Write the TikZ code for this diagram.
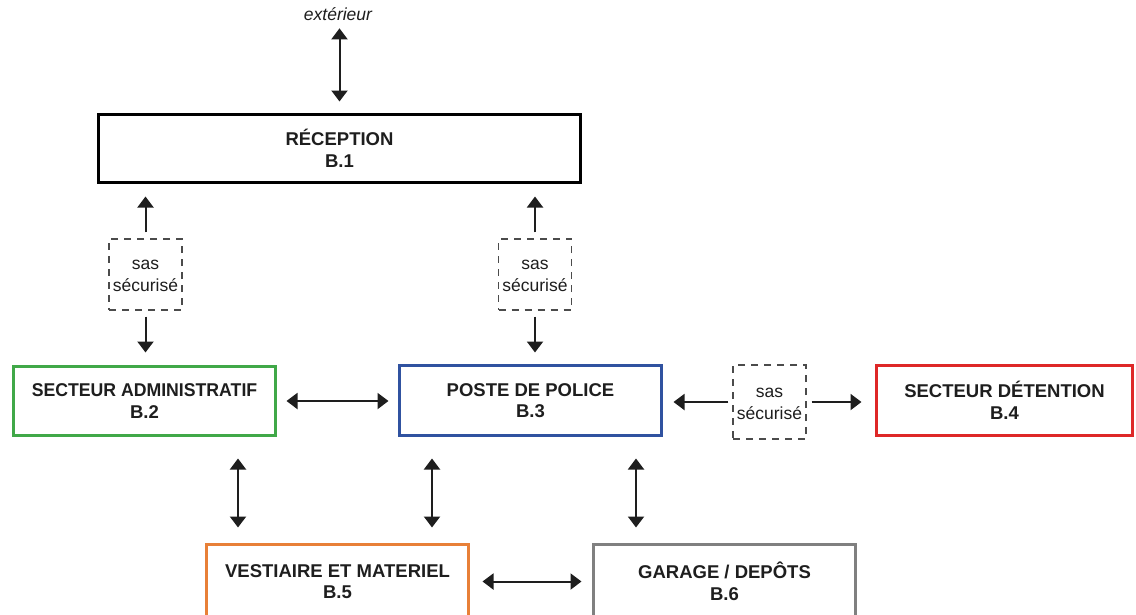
\documentclass[tikz,border=0pt]{standalone}
\usepackage{fontspec}
\setmainfont{Liberation Sans}
\usetikzlibrary{arrows.meta,calc}
\definecolor{cgreen}{RGB}{64,168,72}
\definecolor{cblue}{RGB}{48,82,160}
\definecolor{cred}{RGB}{222,40,40}
\definecolor{corange}{RGB}{232,128,56}
\definecolor{cgray}{RGB}{128,128,128}
\definecolor{ink}{RGB}{30,30,30}
\begin{document}
\begin{tikzpicture}[x=1pt,y=-1pt,
  box/.style={draw, line width=3pt, rectangle, inner sep=0pt, align=center,
    font=\fontsize{18.5}{21.5}\selectfont\bfseries, text=ink},
  sas/.style={draw=ink!80, dash pattern=on 7pt off 6pt, line width=1.3pt, inner sep=0pt,
    align=center, minimum width=73pt, font=\fontsize{17.5}{22}\selectfont, text=ink},
  arr/.style={line width=2pt, draw=ink, -{Triangle[width=16pt,length=11pt]}},
  dbl/.style={line width=2pt, draw=ink, {Triangle[width=16pt,length=11pt]}-{Triangle[width=16pt,length=11pt]}}]
\useasboundingbox (0,0) rectangle (1136,614);
\clip (0,0) rectangle (1136,614);
\fill[white] (0,0) rectangle (1136,614);

\node[font=\fontsize{17.5}{20}\selectfont\itshape, text=ink, inner sep=0pt, anchor=base] (ext) at (338,20) {extérieur};
\node[box, minimum width=482pt, minimum height=68pt] (rec) at (339.5,148.5) {RÉCEPTION\\B.1};
\node[box, draw=cgreen, minimum width=262pt, minimum height=69pt] (adm) at (144.5,401) {\scalebox{0.955}[1]{SECTEUR ADMINISTRATIF}\\B.2};
\node[box, draw=cblue, minimum width=262pt, minimum height=70pt] (pol) at (530.5,400.5) {POSTE DE POLICE\\B.3};
\node[box, draw=cred, minimum width=256pt, minimum height=70pt] (det) at (1004.5,400.5) {SECTEUR DÉTENTION\\B.4};
\node[box, draw=corange, minimum width=262pt, minimum height=74pt] (ves) at (337.5,581.5) {VESTIAIRE ET MATERIEL\\B.5};
\node[box, draw=cgray, minimum width=262pt, minimum height=74pt] (gar) at (724.5,581.5) {GARAGE / DEPÔTS\\B.6};

\node[sas, minimum height=71pt] (sasL) at (145.5,274.5) {\rule{0pt}{13pt}sas\\sécurisé};
\node[sas, minimum height=71pt] (sasR) at (535,274.5) {\rule{0pt}{13pt}sas\\sécurisé};
\node[sas, minimum height=74pt] (sasM) at (769.5,402) {\rule{0pt}{13pt}sas\\sécurisé};

\coordinate (v1) at (238,0);
\coordinate (v2) at (432,0);
\coordinate (v3) at (636,0);

\draw[dbl, shorten <=8pt, shorten >=11.5pt] (rec.north |- ext.south) -- (rec.north);

\draw[arr, shorten <=6pt, shorten >=12.5pt] (sasL.north) -- (sasL.north |- rec.south);
\draw[arr, shorten <=6pt, shorten >=12.5pt] (sasL.south) -- (sasL.south |- adm.north);
\draw[arr, shorten <=6pt, shorten >=12.5pt] (sasR.north) -- (sasR.north |- rec.south);
\draw[arr, shorten <=6pt, shorten >=11.5pt] (sasR.south) -- (sasR.south |- pol.north);

\draw[dbl, shorten <=9.5pt, shorten >=9.5pt] (adm.east) -- (adm.east -| pol.west);
\draw[arr, shorten <=4pt, shorten >=10.5pt] (sasM.west) -- (sasM.west -| pol.east);
\draw[arr, shorten <=5pt, shorten >=13.5pt] (sasM.east) -- (sasM.east -| det.west);

\draw[dbl, shorten <=21.5pt, shorten >=15.5pt] (adm.south -| v1) -- (ves.north -| v1);
\draw[dbl, shorten <=21.5pt, shorten >=15.5pt] (pol.south -| v2) -- (ves.north -| v2);
\draw[dbl, shorten <=21.5pt, shorten >=15.5pt] (pol.south -| v3) -- (gar.north -| v3);
\draw[dbl, shorten <=12.5pt, shorten >=10.5pt] (ves.east) -- (ves.east -| gar.west);
\end{tikzpicture}
\end{document}
